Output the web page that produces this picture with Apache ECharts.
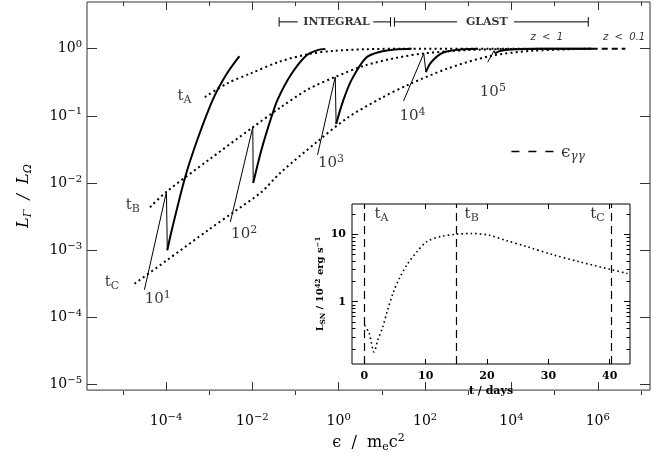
<!DOCTYPE html>
<html><head><meta charset="utf-8">
<script src="https://cdn.jsdelivr.net/npm/echarts@6/dist/echarts.min.js"></script>
<style>html,body{margin:0;padding:0;background:#fff}#c{width:671px;height:458px}</style>
</head><body><div id="c"></div>
<script>
// ===== DATA (main plot values are log10 of the axis quantities) =====
// dotted isochrones t_A, t_B, t_C : log10(eps/mec2), log10(L_Gamma/L_Omega)
const tA_logE = [-3.10, -2.60, -2.05, -1.36, -0.70, -0.10, 0.60, 1.50, 3.00, 5.86];
const tA_logL = [-0.72, -0.52, -0.37, -0.19, -0.08, -0.03, -0.008, 0, 0, 0];
const tB_logE = [-4.37, -3.99, -3.00, -1.99, -1.34, -0.70, -0.08, 0.60, 1.30, 1.97, 3.00, 4.00, 5.86];
const tB_logL = [-2.36, -2.13, -1.65, -1.17, -0.87, -0.60, -0.42, -0.25, -0.14, -0.07, -0.02, -0.003, 0];
const tC_logE = [-4.73, -4.00, -3.00, -2.45, -1.80, -1.34, -0.49, 0.20, 0.97, 1.60, 2.50, 3.50, 4.50, 5.86];
const tC_logL = [-3.50, -3.16, -2.69, -2.44, -2.14, -1.84, -1.38, -1.03, -0.74, -0.54, -0.30, -0.11, -0.03, 0];
// solid tracks for Lorentz factors 10^1 .. 10^5 (thin rising part with spike, thick part)
const g1_thinE = [-4.50, -3.99, -3.97];  const g1_thinL = [-3.59, -2.13, -3.00];
const g1_thickE = [-3.97, -3.87, -3.56, -3.26, -2.91, -2.60, -2.30];
const g1_thickL = [-3.00, -2.71, -1.92, -1.33, -0.75, -0.38, -0.11];
const g2_thinE = [-2.51, -1.99, -1.98];  const g2_thinL = [-2.58, -1.17, -2.00];
const g2_thickE = [-1.98, -1.80, -1.57, -1.41, -1.10, -0.75, -0.49, -0.31];
const g2_thickL = [-2.00, -1.53, -1.04, -0.75, -0.38, -0.10, -0.02, -0.005];
const g3_thinE = [-0.49, -0.08, -0.06];  const g3_thinL = [-1.58, -0.42, -1.12];
const g3_thickE = [-0.06, 0.10, 0.30, 0.64, 0.99, 1.30, 1.69];
const g3_thickL = [-1.12, -0.78, -0.46, -0.13, -0.04, -0.01, 0];
const g4_thinE = [1.50, 1.97, 2.02];  const g4_thinL = [-0.78, -0.07, -0.35];
const g4_thickE = [2.02, 2.10, 2.20, 2.35, 2.50, 2.82, 3.20];
const g4_thickL = [-0.35, -0.24, -0.16, -0.08, -0.04, -0.01, 0];
const g5_thinE = [3.45, 3.60, 3.62];  const g5_thinL = [-0.20, -0.03, -0.07];
const g5_thickE = [3.62, 3.75, 4.00, 4.40, 5.00, 5.86];
const g5_thickL = [-0.07, -0.03, -0.01, -0.003, 0, 0];
// eps_gamma-gamma dashed segment
const egg_logE = [5.86, 6.64]; const egg_logL = [0, 0];
// instrument bands (log10 eps)
const integralBand = [-1.38, 1.20];
const glastBand = [1.29, 5.78];
// inset: SN luminosity (10^42 erg/s) vs days
const snDays = [0.05, 0.8, 1.6, 2.2, 3.0, 3.8, 4.7, 5.7, 7.0, 8.5, 10.2, 12.5, 15.0, 17.5, 20.4, 23.1, 26.4, 30.7, 35.1, 40.2, 42.9];
const snLum  = [0.45, 0.34, 0.18, 0.27, 0.42, 0.75, 1.35, 2.2, 3.6, 5.4, 7.8, 9.3, 10.0, 10.3, 9.7, 8.1, 6.6, 5.0, 3.9, 3.0, 2.62];
const epochDays = [0.05, 15, 40.2];
// tick labels
const mainXTicks = [-4, -2, 0, 2, 4, 6];
const mainXMinor = [-5, -3, -1, 1, 3, 5, 7];
const mainYTicks = [-5, -4, -3, -2, -1, 0];
const insetXTicks = [0, 10, 20, 30, 40];
const insetYTicks = [1, 10];
const groupLabels = ['1', '2', '3', '4', '5'];

// ===== BUILD =====
const SERIF = '"DejaVu Serif", serif';
const zip = (xs, ys) => xs.map((x, i) => [x, ys[i]]);
const expTxt = e => (e < 0 ? '\u2212' + (-e) : '' + e);
const NB = {textBorderWidth: 0, textShadowBlur: 0, color: '#000'};
const powRich = (fs) => ({
  b: Object.assign({fontFamily: SERIF, fontSize: fs, lineHeight: fs + 6}, NB),
  s: Object.assign({fontFamily: SERIF, fontSize: Math.round(fs * 0.7), padding: [0, 0, Math.round(fs * 0.55), 0]}, NB),
  sb: Object.assign({fontFamily: SERIF, fontSize: Math.round(fs * 0.7), padding: [Math.round(fs * 0.55), 0, 0, 0]}, NB),
  i: Object.assign({fontFamily: SERIF, fontStyle: 'italic', fontSize: fs, lineHeight: fs + 6}, NB),
  is: Object.assign({fontFamily: SERIF, fontStyle: 'italic', fontSize: Math.round(fs * 0.7), padding: [Math.round(fs * 0.55), 0, 0, 0]}, NB)
});
const boldRich = (fs) => ({
  b: Object.assign({fontFamily: SERIF, fontWeight: 'bold', fontSize: fs, lineHeight: fs + 5}, NB),
  s: Object.assign({fontFamily: SERIF, fontWeight: 'bold', fontSize: Math.round(fs * 0.7), padding: [0, 0, Math.round(fs * 0.5), 0]}, NB),
  sb: Object.assign({fontFamily: SERIF, fontWeight: 'bold', fontSize: Math.round(fs * 0.7), padding: [Math.round(fs * 0.5), 0, 0, 0]}, NB)
});

const MAIN_X = {min: -5.83, max: 7.21};
const MAIN_Y = {min: -5.084, max: 0.696};
const INS_X = {min: -2.0, max: 43.3};
const INS_Y = {min: -0.924, max: 1.45};

function tickAxis(gridIndex, position, range, ticks, len, color, extra) {
  return Object.assign({
    type: 'value', gridIndex, position, min: range.min, max: range.max,
    axisLine: {show: false, onZero: false}, splitLine: {show: false},
    axisTick: {show: true, inside: true, length: len, customValues: ticks, lineStyle: {color, width: 1}},
    axisLabel: {show: false}
  }, extra || {});
}

const insMinorY = [];
[0.1, 1, 10].forEach(d => [2, 3, 4, 5, 6, 7, 8, 9].forEach(k => {
  const v = Math.log10(k * d); if (v > INS_Y.min && v < INS_Y.max) insMinorY.push(v);
}));

const xAxis = [
  tickAxis(0, 'bottom', MAIN_X, mainXTicks, 8, '#333', {
    axisLabel: {show: true, customValues: mainXTicks, margin: 21,
      formatter: v => `{b|10}{s|${expTxt(Math.round(v))}}`, rich: powRich(14)},
    name: '{b|\u03f5  /  m}{sb|e}{b|c}{s|2}', nameLocation: 'middle', nameGap: 33,
    nameTextStyle: {rich: powRich(16)}
  }),
  tickAxis(0, 'top', MAIN_X, mainXTicks, 8, '#333'),
  tickAxis(1, 'bottom', MAIN_X, mainXMinor, 4, '#333'),
  tickAxis(1, 'top', MAIN_X, mainXMinor, 4, '#333'),
  tickAxis(2, 'bottom', INS_X, insetXTicks, 5, '#000', {
    z: 6,
    axisLabel: {show: true, customValues: insetXTicks, margin: 7, fontFamily: SERIF, fontWeight: 'bold', fontSize: 11, color: '#000'},
    name: 't / days', nameLocation: 'middle', nameGap: 22,
    nameTextStyle: {fontFamily: SERIF, fontWeight: 'bold', fontSize: 11, color: '#000'}
  }),
  tickAxis(2, 'top', INS_X, insetXTicks, 5, '#000', {z: 6}),
  {type: 'value', gridIndex: 3, min: INS_X.min, max: INS_X.max, show: false}
];
const yAxis = [
  tickAxis(0, 'left', MAIN_Y, mainYTicks, 10, '#333', {
    axisLabel: {show: true, customValues: mainYTicks, margin: 5,
      formatter: v => `{b|10}{s|${expTxt(Math.round(v))}}`, rich: powRich(14)},
    name: '{i|L}{is|\u0393}{i|  /  L}{is|\u03a9}', nameLocation: 'middle', nameGap: 52,
    nameTextStyle: {rich: powRich(16)}
  }),
  tickAxis(0, 'right', MAIN_Y, mainYTicks, 10, '#333'),
  {type: 'value', gridIndex: 1, min: MAIN_Y.min, max: MAIN_Y.max, show: false},
  tickAxis(2, 'left', INS_Y, insetYTicks.map(Math.log10), 6, '#000', {
    z: 6,
    axisLabel: {show: true, customValues: insetYTicks.map(Math.log10), margin: 6,
      formatter: v => '' + Math.round(Math.pow(10, v)), fontFamily: SERIF, fontWeight: 'bold', fontSize: 11, color: '#000'},
    name: '{b|L}{sb|SN}{b| / 10}{s|42}{b| erg s}{s|\u22121}', nameLocation: 'middle', nameGap: 13,
    nameTextStyle: {rich: boldRich(10)}
  }),
  tickAxis(2, 'right', INS_Y, insetYTicks.map(Math.log10), 6, '#000', {z: 6}),
  tickAxis(3, 'left', INS_Y, insMinorY, 3.5, '#000', {z: 6}),
  tickAxis(3, 'right', INS_Y, insMinorY, 3.5, '#000', {z: 6})
];

const dotted = {color: '#000', width: 2, type: [2, 3.2]};
function mainLine(data, lineStyle, smooth) {
  return {type: 'line', xAxisIndex: 0, yAxisIndex: 0, data, symbol: 'none', silent: true,
    smooth: smooth ? 0.3 : false, lineStyle, z: 3};
}
const series = [];
[[tA_logE, tA_logL], [tB_logE, tB_logL], [tC_logE, tC_logL]].forEach(([e, l]) =>
  series.push(mainLine(zip(e, l), dotted, true)));
[[g1_thinE, g1_thinL, g1_thickE, g1_thickL], [g2_thinE, g2_thinL, g2_thickE, g2_thickL],
 [g3_thinE, g3_thinL, g3_thickE, g3_thickL], [g4_thinE, g4_thinL, g4_thickE, g4_thickL],
 [g5_thinE, g5_thinL, g5_thickE, g5_thickL]].forEach(([a, b, c, d]) => {
  series.push(mainLine(zip(a, b), {color: '#000', width: 1}, false));
  series.push(mainLine(zip(c, d), {color: '#000', width: 2}, true));
});
series.push(mainLine(zip(egg_logE, egg_logL), {color: '#000', width: 2, type: [6, 4]}, false));

// instrument brackets
const BY = 0.40, CAP = 0.07;
function bracket(band, gapL, gapR) {
  return [[band[0], BY - CAP], [band[0], BY + CAP], null, [band[0], BY], [gapL, BY], null,
          [gapR, BY], [band[1], BY], null, [band[1], BY - CAP], [band[1], BY + CAP]];
}
series.push({type: 'line', xAxisIndex: 0, yAxisIndex: 0, symbol: 'none', silent: true, connectNulls: false,
  data: bracket(integralBand, -0.95, 0.80).concat([null]).concat(bracket(glastBand, 2.74, 4.06)),
  lineStyle: {color: '#000', width: 1}});
// legend dash for eps_gg
series.push(mainLine([[4.0, -1.53], [5.04, -1.53]], {color: '#000', width: 1.5, type: [8, 9]}, false));

// annotations (data-space anchors)
function txt(pos, formatter, rich, align) {
  return {value: pos, label: Object.assign({show: true, position: 'inside', formatter, rich,
    align: align || 'center', verticalAlign: 'middle', textBorderColor: 'transparent'}, NB)};
}
const R15 = powRich(15);
const plain = (fam, extra) => ({k: Object.assign({fontFamily: fam}, extra, NB)});
const annMain = [
  txt([-3.57, -0.70], '{b|t}{sb|A}', R15),
  txt([-4.77, -2.33], '{b|t}{sb|B}', R15),
  txt([-5.25, -3.47], '{b|t}{sb|C}', R15),
  txt([-4.19, -3.73], `{b|10}{s|${groupLabels[0]}}`, R15),
  txt([-2.19, -2.76], `{b|10}{s|${groupLabels[1]}}`, R15),
  txt([-0.18, -1.70], `{b|10}{s|${groupLabels[2]}}`, R15),
  txt([1.71, -1.00], `{b|10}{s|${groupLabels[3]}}`, R15),
  txt([3.57, -0.64], `{b|10}{s|${groupLabels[4]}}`, R15),
  txt([5.15, -1.55], '{b|\u03f5}{is|\u03b3\u03b3}', powRich(17), 'left'),
  txt([-0.05, 0.40], '{k|INTEGRAL}', plain(SERIF, {fontWeight: 'bold', fontSize: 11})),
  txt([3.43, 0.40], '{k|GLAST}', plain(SERIF, {fontWeight: 'bold', fontSize: 11})),
  txt([4.82, 0.17], '{k|z  <  1}', plain('"DejaVu Sans"', {fontStyle: 'italic', fontSize: 10})),
  txt([6.61, 0.17], '{k|z  <  0.1}', plain('"DejaVu Sans"', {fontStyle: 'italic', fontSize: 10}))
];
series.push({type: 'scatter', xAxisIndex: 0, yAxisIndex: 0, symbolSize: 0, silent: true, data: annMain, z: 5});

// inset series
series.push({type: 'line', xAxisIndex: 4, yAxisIndex: 3, symbol: 'none', silent: true, smooth: 0.3,
  data: snDays.map((t, i) => [t, Math.log10(snLum[i])]),
  lineStyle: {color: '#000', width: 1.6, type: [1.6, 3]}, z: 6,
  markLine: {silent: true, symbol: 'none', label: {show: false},
    lineStyle: {color: '#000', width: 1.2, type: [8, 5]},
    data: epochDays.map(t => ({xAxis: t}))}});
series.push({type: 'scatter', xAxisIndex: 4, yAxisIndex: 3, symbolSize: 0, silent: true, z: 7, data: [
  txt([2.8, 1.30], '{b|t}{sb|A}', R15),
  txt([17.5, 1.30], '{b|t}{sb|B}', R15),
  txt([38.0, 1.30], '{b|t}{sb|C}', R15)
]});

const chart = echarts.init(document.getElementById('c'), null, {renderer: 'canvas'});
chart.setOption({
  animation: false,
  backgroundColor: '#fff',
  grid: [
    {left: 87, right: 21, top: 2, bottom: 63, show: true, borderColor: '#333', borderWidth: 1, backgroundColor: 'transparent'},
    {left: 87, right: 21, top: 2, bottom: 63, show: false},
    {left: 352, right: 41, top: 204, bottom: 94, show: true, borderColor: '#000', borderWidth: 1, backgroundColor: '#fff'},
    {left: 352, right: 41, top: 204, bottom: 94, show: false}
  ],
  xAxis, yAxis, series
});
</script></body></html>
